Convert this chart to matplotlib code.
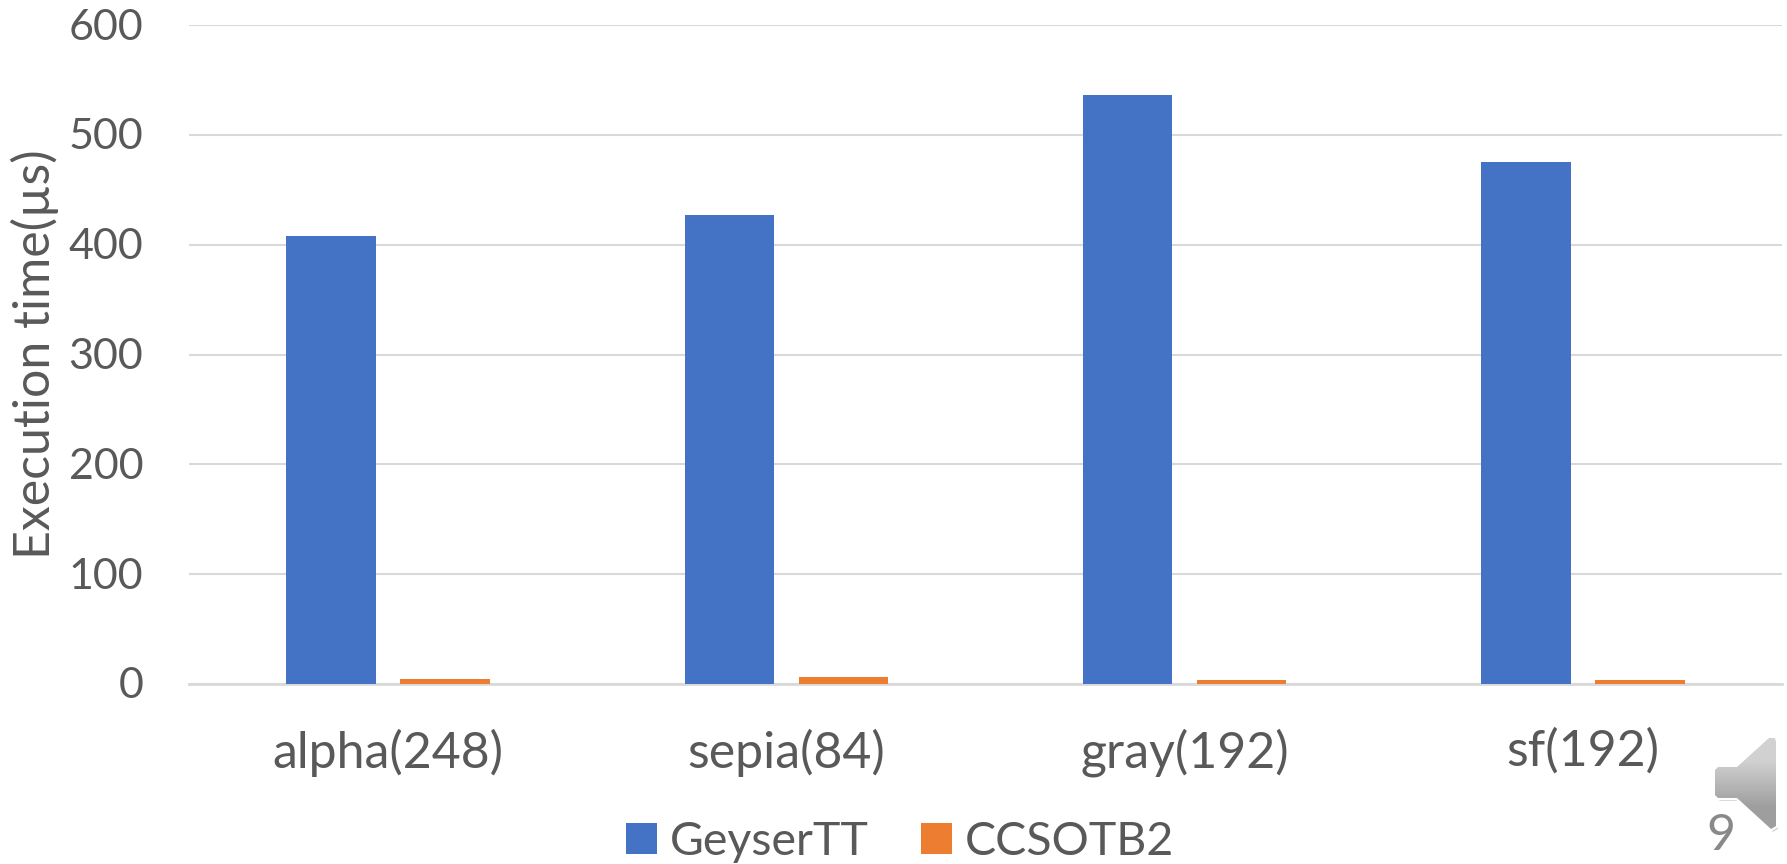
import numpy as np
import matplotlib
matplotlib.use("Agg")
import matplotlib.pyplot as plt
from matplotlib.patches import Polygon
from matplotlib.transforms import ScaledTranslation

categories = ["alpha(248)", "sepia(84)", "gray(192)", "sf(192)"]
geyser = [408, 427, 536, 475]
ccsotb = [5, 6, 4, 4]
yticks = [0, 100, 200, 300, 400, 500, 600]

W, H = 1787, 864
plt.rcParams['font.family'] = ['Lato', 'DejaVu Sans']
TXT = '#595959'
fig = plt.figure(figsize=(W/100, H/100), dpi=100, facecolor='white')
L, R, T, B = 189, 1782, 25, 684
ax = fig.add_axes([L/W, 1-B/H, (R-L)/W, (B-T)/H])
x = np.arange(4)
bw, off = 0.225, 0.143
ax.bar(x-off, geyser, bw, color='#4472C4', label='GeyserTT', zorder=3)
ax.bar(x+off, ccsotb, bw, color='#ED7D31', label='CCSOTB2', zorder=3)
ax.set_xlim(-0.5, 3.5)
ax.set_ylim(0, 600)
ax.set_yticks(yticks)
ax.set_xticks(x, categories)
ax.grid(axis='y', color='#D9D9D9', lw=1.5, zorder=0)
ax.set_axisbelow(True)
for s in ['top', 'left', 'right']:
    ax.spines[s].set_visible(False)
ax.spines['bottom'].set_color('#D9D9D9')
ax.spines['bottom'].set_linewidth(2)
ax.tick_params(axis='y', length=0, labelsize=31, labelcolor=TXT, pad=33)
ax.tick_params(axis='x', length=0, labelsize=36, labelcolor=TXT, pad=32)
up = ScaledTranslation(0, 1/100, fig.dpi_scale_trans)
for t in ax.get_yticklabels():
    t.set_clip_on(False)
    t.set_transform(t.get_transform() + up)
ax.set_ylabel('Execution time(µs)', fontsize=36, color=TXT, labelpad=0)
ax.yaxis.set_label_coords((35-L)/(R-L), 0.5)
ax.yaxis.label.set_verticalalignment('center')

h, l = ax.get_legend_handles_labels()
fs = 33.5
fig.legend(h, l, loc='center', bbox_to_anchor=(900/W, 1-842/H), ncol=2, frameon=False,
           fontsize=fs, labelcolor=TXT, handlelength=31/(fs*100/72), handleheight=30/(fs*100/72),
           handletextpad=0.28, columnspacing=1.12, borderpad=0, labelspacing=0)

# speaker icon overlay, in pixel coordinates
ov = fig.add_axes([0, 0, 1, 1], facecolor='none')
ov.set_xlim(0, W); ov.set_ylim(H, 0); ov.axis('off')
pts = [(1715, 770), (1718, 767), (1737, 767), (1769, 738), (1775, 738), (1776, 742),
       (1776, 826), (1771, 829), (1737, 798), (1718, 798), (1715, 795)]
ov.add_patch(Polygon([(a+2, b+3) for a, b in pts], closed=True, fc='#BBBBBB', ec='none', alpha=.6))
ov.add_patch(Polygon(pts, closed=True, fc='white', ec='white', lw=3))
clip = Polygon(pts, closed=True, transform=ov.transData, fc='none', ec='none')
ov.add_patch(clip)
grad = np.array([[0.82], [0.62]])
im = ov.imshow(grad, extent=(1710, 1780, 830, 737), cmap='gray', vmin=0, vmax=1,
               aspect='auto', interpolation='bilinear', zorder=2)
im.set_clip_path(clip)
ov.set_xlim(0, W); ov.set_ylim(H, 0)
ov.text(1706, 850, '9', fontsize=36, color='#898989', ha='left', va='baseline', zorder=3)
fig.savefig('out.png', dpi=100)
